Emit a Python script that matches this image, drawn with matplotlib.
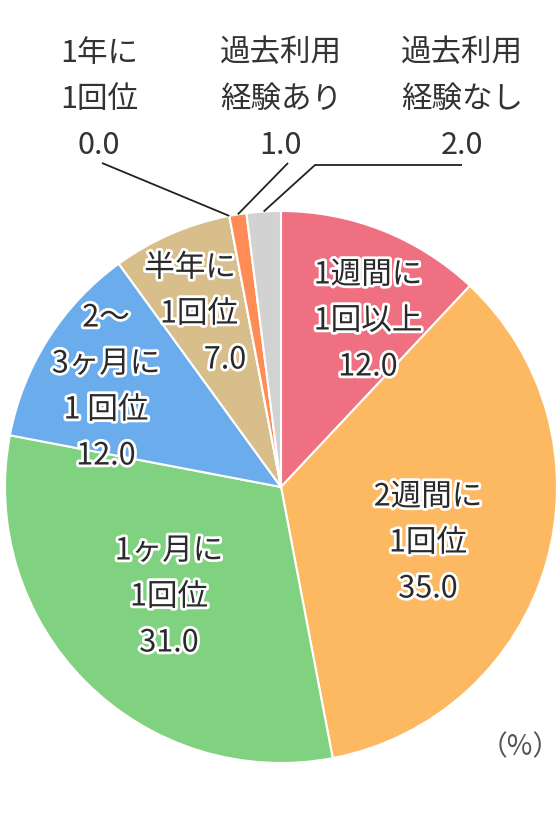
import numpy as np
import matplotlib
matplotlib.use("Agg")
import matplotlib.pyplot as plt
import matplotlib.patheffects as pe

plt.rcParams['font.family'] = ['Noto Sans CJK JP', 'DejaVu Sans']

# ---------------------------
# Data (%), clockwise from 12 o'clock
# ---------------------------
labels = ["1週間に\n1回以上", "2週間に\n1回位", "1ヶ月に\n1回位", "2〜\n3ヶ月に\n1 回位",
          "半年に\n1回位", "1年に\n1回位", "過去利用\n経験あり", "過去利用\n経験なし"]
values = [12.0, 35.0, 31.0, 12.0, 7.0, 0.0, 1.0, 2.0]
colors = ["#EF7080", "#FDB862", "#80D280", "#6AACEC", "#D8BE8A", "#E0A060", "#FF8C55", "#D2D2D2"]

W, H = 560, 840
CX, CY, R = 281, 487, 276   # pie centre / radius in pixels (from top)


def Y(py):
    return H - py


fig = plt.figure(figsize=(5.6, 8.4), dpi=100)
ax = fig.add_axes([0, 0, 1, 1])

ax.pie(values, colors=colors, startangle=90, counterclock=False,
       center=(CX, Y(CY)), radius=R,
       wedgeprops=dict(edgecolor="white", linewidth=1.5))
ax.set_xlim(0, W)
ax.set_ylim(0, H)
ax.set_aspect("equal")
ax.axis("off")

halo = [pe.withStroke(linewidth=4, foreground="white")]
FS = 22
LINE = 46

# labels inside the pie: (index, x of centre, y of first line)
inside = [(0, 368, 275), (1, 428, 497), (2, 169, 551), (3, 106, 318), (4, 195, 268)]
for i, x, y0 in inside:
    lines = labels[i].split("\n") + [f"{values[i]:.1f}"]
    for k, t in enumerate(lines):
        xx = x
        if i == 4:
            xx = [190, 199, 225][k]
        ax.text(xx, Y(y0 + k * LINE), t, ha="center", va="center", fontsize=FS,
                color="#2a2a2a", path_effects=halo)

# small slices labelled above the pie
outside = [(5, 99), (6, 281), (7, 462)]
for i, x in outside:
    lines = labels[i].split("\n") + [f"{values[i]:.1f}"]
    for k, t in enumerate(lines):
        ax.text(x, Y(53 + k * 46), t, ha="center", va="center", fontsize=FS,
                color="#333333")

# leader lines to the middle of each small slice
cum = np.cumsum([0] + values)
starts = {5: [(102, 163)], 6: [(288, 163)], 7: [(462, 165), (315, 165)]}
for i, pts in starts.items():
    mid = (cum[i] + cum[i + 1]) / 2 / 100.0
    ang = np.deg2rad(90 - 360 * mid)
    ex = CX + R * np.cos(ang)
    ey = Y(CY) + R * np.sin(ang)
    xs = [p[0] for p in pts] + [ex]
    ys = [Y(p[1]) for p in pts] + [ey]
    ax.plot(xs, ys, color="#222222", lw=1.3, solid_capstyle="butt")

ax.text(520, Y(747), "（%）", ha="center", va="center", fontsize=20, color="#555555")

plt.savefig("out.png", dpi=100)
plt.close()
